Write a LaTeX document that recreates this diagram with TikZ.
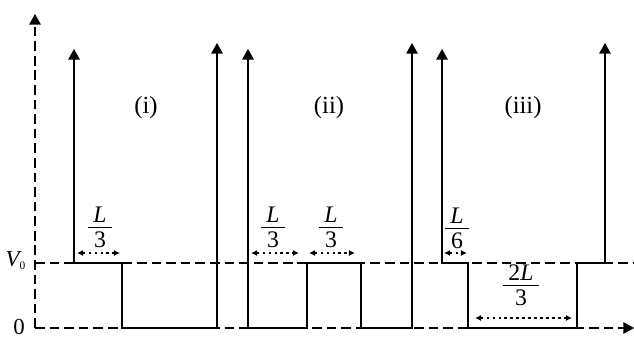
\documentclass[tikz,border=0pt]{standalone}
\usepackage{amsmath}
\usepackage{fontspec}
\setmainfont{Liberation Serif}
\usepackage{tikz}
\usetikzlibrary{arrows.meta, positioning, calc}

% fraction compacte, chiffres a taille normale
\newcommand{\wellfrac}[2]{$\frac{\hspace{3pt}\textstyle #1\rule[-1.6pt]{0pt}{1.6pt}\hspace{3pt}}{\textstyle\rule{0pt}{10.6pt}#2}$}

\begin{document}
\begin{tikzpicture}[
    x=0.02cm, y=0.02cm,
    every node/.style={font=\fontsize{13}{15}\selectfont},
    levelline/.style={line width=0.75pt, dash pattern=on 5.5pt off 2.8pt},
    wall/.style={line width=0.85pt, {Triangle[width=6.5pt,length=6pt]}-{Triangle[width=6.5pt,length=6pt]}},
    dimarrow/.style={line width=0.65pt, dash pattern=on 1.6pt off 1.8pt, {Latex[length=3.5pt,width=3.5pt]}-{Latex[length=3.5pt,width=3.5pt]}},
    welllabel/.style={font=\fontsize{14}{16}\selectfont},
    fraclabel/.style={font=\fontsize{13.5}{16}\selectfont, inner sep=0pt, anchor=south}
]
\useasboundingbox (0,0) rectangle (634,337);

% niveaux : 0 et V0
\def\Yz{9}
\def\Yv{74}
\def\Yl{288}  % haut des parois gauches
\def\Yr{294}  % haut des parois droites

% axes en tirets
\coordinate (O) at (35,\Yz);
\draw[levelline, -{Triangle[width=6.5pt,length=6pt]}] (O) -- (35,323);
\draw[levelline, -{Triangle[width=6.5pt,length=6pt]}] (O) -- (634,\Yz);
\draw[levelline] (35,\Yv) -- (634,\Yv);

\node (lblV) at (16,\Yv+2) {$\textit{V}_{\scriptscriptstyle\textup{0}}$};
\node (lblO) at (19,\Yz+1) {0};

% puits (i)
\draw[wall] (74,\Yl) -- (74,\Yv) -- (122,\Yv) -- (122,\Yz) -- (217,\Yz) -- (217,\Yr);
% puits (ii)
\draw[wall] (248,\Yl) -- (248,\Yz) -- (307,\Yz) -- (307,\Yv) -- (361,\Yv) -- (361,\Yz) -- (412,\Yz) -- (412,\Yr);
% puits (iii)
\draw[wall] (442,\Yl) -- (442,\Yv) -- (468,\Yv) -- (468,\Yz) -- (577,\Yz) -- (577,\Yv) -- (605,\Yv) -- (605,\Yr);

% noms des puits
\node[welllabel] (wi)   at (146,229) {(i)};
\node[welllabel] (wii)  at (329,229) {(ii)};
\node[welllabel] (wiii) at (523,229) {(iii)};

% cotes
\coordinate (ia) at (77,84);   \coordinate (ib) at (120,84);
\coordinate (iia) at (251,84); \coordinate (iib) at (299,84);
\coordinate (iic) at (309,84); \coordinate (iid) at (355,84);
\coordinate (iiia) at (444,84); \coordinate (iiib) at (467,84);
\coordinate (iiic) at (475,19); \coordinate (iiid) at (572,19);

\draw[dimarrow] (ia) -- (ib);
\draw[dimarrow] (iia) -- (iib);
\draw[dimarrow] (iic) -- (iid);
\draw[dimarrow] (iiia) -- (iiib);
\draw[dimarrow] (iiic) -- (iiid);

\node[fraclabel] (fi)    at (100,89) {\wellfrac{\textit{L}}{\textup{3}}};
\node[fraclabel] (fiia)  at (273,89) {\wellfrac{\textit{L}}{\textup{3}}};
\node[fraclabel] (fiib)  at (331,89) {\wellfrac{\textit{L}}{\textup{3}}};
\node[fraclabel] (fiiia) at (457,88) {\wellfrac{\textit{L}}{\textup{6}}};
\node[fraclabel] (fiiib) at (521,31) {\wellfrac{\textup{2}\textit{L}}{\textup{3}}};

\end{tikzpicture}
\end{document}
